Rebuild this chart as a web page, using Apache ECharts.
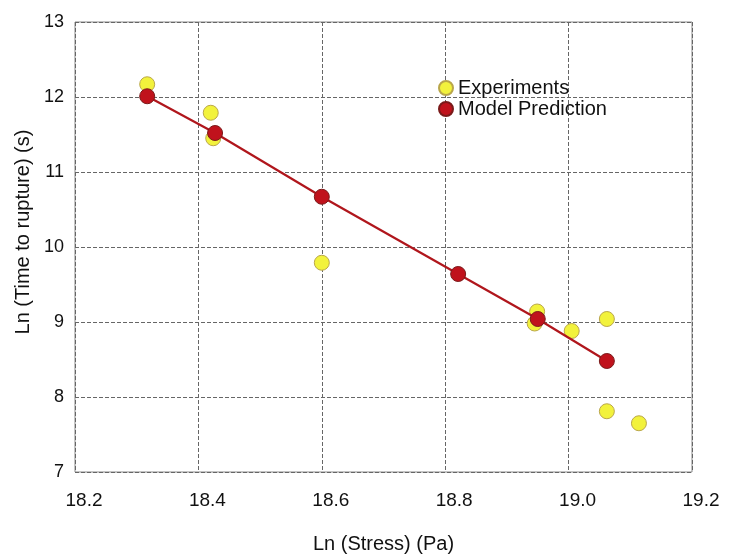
<!DOCTYPE html>
<html><head><meta charset="utf-8">
<script src="https://cdn.jsdelivr.net/npm/echarts@6/dist/echarts.min.js"></script>
<style>html,body{margin:0;padding:0;background:#fff}#c{width:732px;height:556px}</style>
</head><body><div id="c"></div>
<script>
var expX = [18.317, 18.42, 18.424, 18.600, 18.949, 18.945, 19.005, 19.062, 19.062, 19.114];
var expY = [12.17, 11.79, 11.45, 9.79, 9.14, 8.98, 8.88, 9.04, 7.81, 7.65];
var modX = [18.317, 18.427, 18.600, 18.821, 18.950, 19.062];
var modY = [12.01, 11.52, 10.67, 9.64, 9.04, 8.48];
var xTicks = ['18.2', '18.4', '18.6', '18.8', '19.0', '19.2'];
var yTicks = ['7', '8', '9', '10', '11', '12', '13'];

function pairs(xs, ys){ return xs.map(function(x,i){ return [x, ys[i]]; }); }

var chart = echarts.init(document.getElementById('c'));
var font = '"Liberation Sans", Arial, sans-serif';
chart.setOption({
  animation: false,
  textStyle: {fontFamily: font},
  grid: {left: 75, right: 40, top: 22, bottom: 84, show: true, borderColor: '#888', borderWidth: 1,
    containLabel: false, outerBoundsMode: 'none'},
  xAxis: {
    type: 'value', min: 18.2, max: 19.2, interval: 0.2,
    axisLine: {show: false}, axisTick: {show: false},
    axisLabel: {color: '#111', fontSize: 19, margin: 19, fontFamily: font, padding: [0,0,0,18],
      formatter: function(v){ var i = Math.round((v-18.2)/0.2); return xTicks[i]; }},
    splitLine: {show: true, lineStyle: {color: '#666', type: [4,2], width: 1}},
    name: 'Ln (Stress) (Pa)', nameLocation: 'middle', nameGap: 62,
    nameTextStyle: {color: '#111', fontSize: 20, fontFamily: font}
  },
  yAxis: {
    type: 'value', min: 7, max: 13, interval: 1,
    axisLine: {show: false}, axisTick: {show: false},
    axisLabel: {color: '#111', fontSize: 18, margin: 11, fontFamily: font,
      formatter: function(v){ return yTicks[Math.round(v-7)]; }},
    splitLine: {show: true, lineStyle: {color: '#666', type: [4,2], width: 1}},
    name: 'Ln (Time to rupture) (s)', nameLocation: 'middle', nameGap: 40,
    nameTextStyle: {color: '#111', fontSize: 20, fontFamily: font, padding: [0,0,0,30]}
  },
  legend: {
    orient: 'vertical', left: 438, top: 78, padding: 0, itemWidth: 14, itemHeight: 14, itemGap: 1,
    textStyle: {color: '#111', fontSize: 20, fontFamily: font},
    data: [{name: 'Experiments', icon: 'circle'}, {name: 'Model Prediction', icon: 'circle'}]
  },
  series: [
    {name: 'Experiments', type: 'scatter', data: pairs(expX, expY), symbolSize: 15,
     itemStyle: {color: '#f2f23c', borderColor: '#b9a64a', borderWidth: 1, opacity: 1}, z: 2},
    {name: 'line', type: 'line', data: pairs(modX, modY), showSymbol: false, symbol: 'none',
     lineStyle: {color: '#b0161c', width: 2.2}, z: 3},
    {name: 'Model Prediction', type: 'scatter', data: pairs(modX, modY), symbolSize: 15,
     itemStyle: {color: '#c0121c', borderColor: '#7a1a1a', borderWidth: 1, opacity: 1}, z: 4}
  ]
});
</script></body></html>
